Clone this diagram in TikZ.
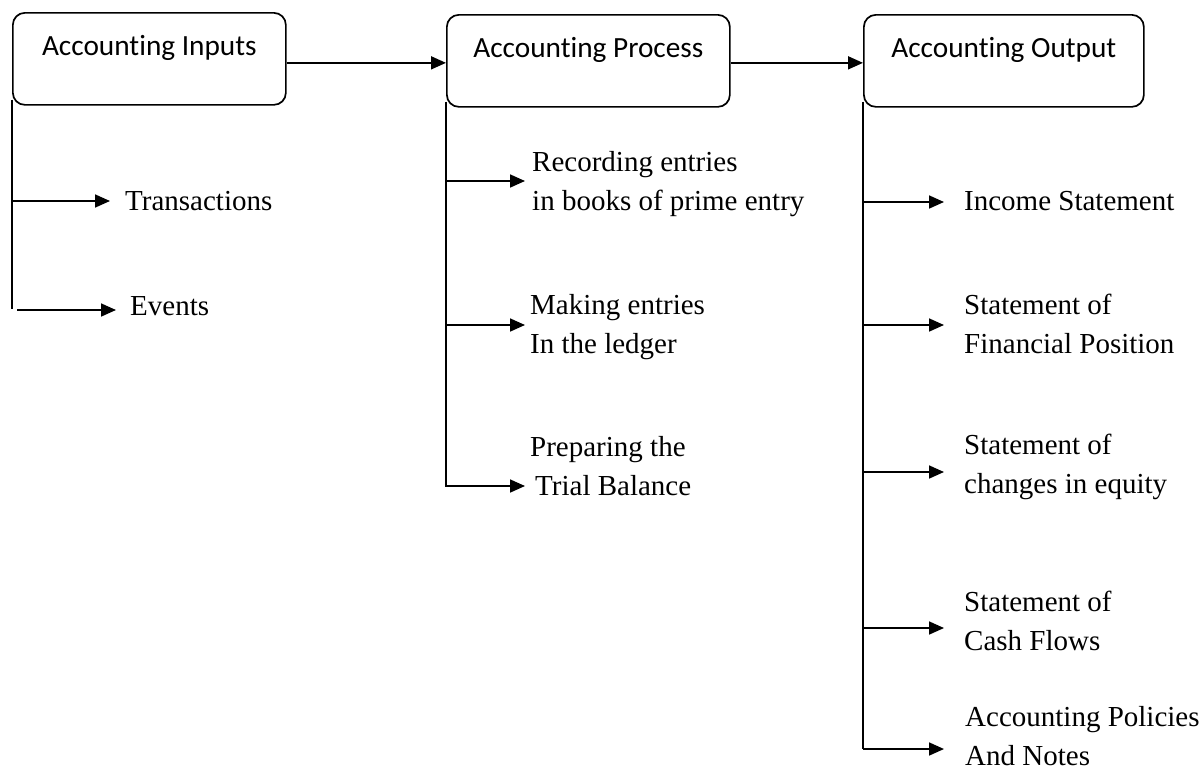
\documentclass[tikz,border=0pt]{standalone}
\usepackage{fontspec}
\setmainfont{Liberation Serif}
\newfontfamily\stagefont[Ligatures=NoCommon]{Carlito}
\usetikzlibrary{arrows.meta}
\begin{document}
\begin{tikzpicture}[x=1pt,y=-1pt,
  stage/.style={draw, line width=1.7pt, rounded corners=12pt,
    font=\stagefont\fontsize{29.3}{35}\selectfont,
    minimum width=#1, inner xsep=0pt, inner ysep=0pt,
    text height=43pt, text depth=49pt, anchor=north west},
  % multi-line items are placed by the baseline of their last line
  item/.style={font=\fontsize{29}{39}\selectfont, align=left,
    anchor=base west, inner sep=0pt},
  trunk/.style={line width=1.7pt},
  feed/.style={line width=1.7pt, -{Triangle[length=15pt,width=13pt]}}]
\useasboundingbox (0,0) rectangle (1204,769);

% the three stages
\node[stage=273pt] (inp)  at (12,12)  {Accounting Inputs};
\node[stage=283pt] (proc) at (446,14) {Accounting Process};
\node[stage=280pt] (outp) at (863,14) {Accounting Output};

\draw[feed] ([yshift=-4pt]inp.east)  -- ([yshift=-2pt]proc.west);
\draw[feed] ([yshift=-2pt]proc.east) -- ([yshift=-2pt]outp.west);

% inputs
\coordinate (inEnd) at (12,309);
\draw[trunk] ([yshift=6pt]inp.south west) -- (inEnd);
\node[item] (tr) at (125,210) {Transactions};
\node[item] (ev) at (130,315) {Events};
\coordinate (trTip) at (110,201);
\coordinate (evStart) at (17,310);
\coordinate (evTip) at (116,310);
\draw[feed] (inp.south west |- trTip) -- (trTip);
\draw[feed] (evStart) -- (evTip);

% process
\coordinate (procEnd) at (446,487);
\draw[trunk] ([yshift=6pt]proc.south west) -- (procEnd);
\node[item] (rec)  at (532,210) {Recording entries\\in books of prime entry};
\node[item] (mak)  at (530,353) {Making entries\\In the ledger};
\node[item] (prep) at (530,495) {Preparing the\\\hspace*{5pt}Trial Balance};
\coordinate (recTip)  at (525,181);
\coordinate (makTip)  at (525,325);
\coordinate (prepTip) at (525,486);
\draw[feed] (proc.south west |- recTip)  -- (recTip);
\draw[feed] (proc.south west |- makTip)  -- (makTip);
\draw[feed] (proc.south west |- prepTip) -- (prepTip);

% output
\coordinate (outEnd) at (863,749);
\draw[trunk] ([yshift=6pt]outp.south west) -- (outEnd);
\node[item] (inc)  at (964,210) {Income Statement};
\node[item] (fin)  at (964,353) {Statement of\\Financial Position};
\node[item] (eq)   at (964,493) {Statement of\\changes in equity};
\node[item] (cash) at (964,650) {Statement of\\Cash Flows};
\node[item] (pol)  at (965,765) {Accounting Policies\\And Notes};
\coordinate (incTip)  at (944,202);
\coordinate (finTip)  at (944,325);
\coordinate (eqTip)   at (944,472);
\coordinate (cashTip) at (944,628);
\coordinate (polTip)  at (944,749);
\draw[feed] (outp.south west |- incTip)  -- (incTip);
\draw[feed] (outp.south west |- finTip)  -- (finTip);
\draw[feed] (outp.south west |- eqTip)   -- (eqTip);
\draw[feed] (outp.south west |- cashTip) -- (cashTip);
\draw[feed] (outp.south west |- polTip)  -- (polTip);
\end{tikzpicture}
\end{document}
